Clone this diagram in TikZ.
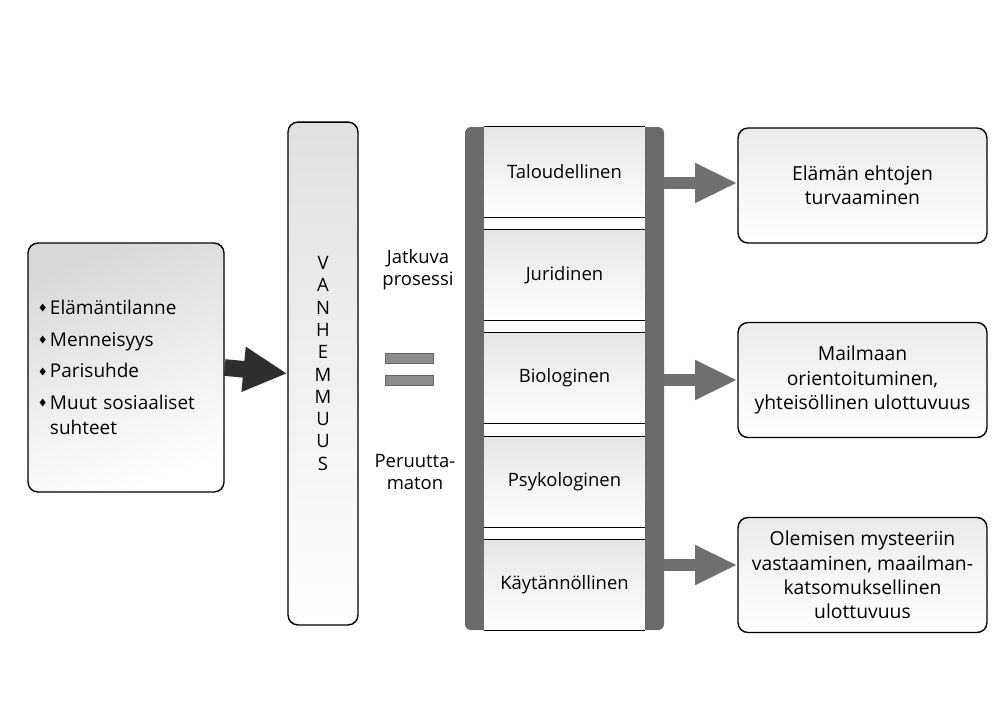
\documentclass[tikz,border=0pt]{standalone}
\usepackage{amssymb}
\usepackage{fontspec}
\setmainfont{Open Sans}
\usepackage{tikz}
\usetikzlibrary{positioning,arrows.meta,calc}

\definecolor{railgray}{HTML}{6A6A6A}
\definecolor{arrgray}{HTML}{707070}
\definecolor{arrdark}{HTML}{2E2E2E}
\newcommand{\dmd}{\raisebox{0.35ex}{\tiny$\blacklozenge$}\,}

\begin{document}
\begin{tikzpicture}[x=0.02cm, y=-0.02cm, font=\fontsize{10.5}{12.7}\selectfont,
  srcbox/.style={draw, thick, rounded corners=0.2cm, minimum width=3.92cm, minimum height=4.98cm,
    top color=black!15, bottom color=white, shading angle=20, align=left, text width=3.5cm,
    font=\fontsize{10.8}{14.5}\selectfont},
  vhbox/.style={draw, thick, rounded corners=0.2cm, minimum width=1.4cm, minimum height=10.06cm,
    top color=black!12, bottom color=white},
  sec/.style={minimum width=3.22cm, minimum height=1.8cm, top color=black!10, bottom color=white},
  outbox/.style={draw, thick, rounded corners=0.2cm, minimum width=4.98cm, minimum height=2.3cm,
    top color=black!8, bottom color=white, align=center, font=\fontsize{11}{13.8}\selectfont},
  bigarr/.style={line width=9.5pt, arrdark, -{Triangle[length=25pt, width=24pt]}},
  outarr/.style={line width=6.8pt, arrgray, -{Triangle[length=24pt, width=21pt]}}]
\useasboundingbox (0,0) rectangle (998,704);

% left box
\node[srcbox] (src) at (126,367.5) {\dmd Elämäntilanne\\[3.5pt]
  \dmd Menneisyys\\[3.5pt]
  \dmd Parisuhde\\[3.5pt]
  \dmd Muut sosiaaliset\\
  \phantom{\dmd}suhteet};

% vanhemmuus
\node[vhbox] (vh) at (323,373.5) {};
\foreach \l [count=\k] in {V,A,N,H,E,M,M,U,U,S}
  \node[inner sep=0pt] (v\k) at (323,{263+22.3*(\k-1)}) {\l};

\node[align=center] (jat) at (418,270) {Jatkuva\\prosessi};
\node[align=center] (per) at (415,472) {Peruutta-\\maton};
\filldraw[fill=black!45, draw=black!60] (385,353) rectangle (433,363);
\filldraw[fill=black!45, draw=black!60] (385,375) rectangle (433,385);

% ladder
\fill[railgray, rounded corners=0.12cm] (465,127) rectangle (664,630);
\fill[white] (484,127) rectangle (645,630);
\foreach \i/\y/\lab in {1/172/Taloudellinen, 2/275/Juridinen, 3/378/Biologinen,
    4/482/Psykologinen, 5/585/Käytännöllinen}{
  \node[sec] (s\i) at (564.5,\y) {\lab};
  \draw (s\i.north west) -- (s\i.north east);
  \draw (s\i.south west) -- (s\i.south east);
}

% outcome boxes
\node[outbox] (r1) at (862.5,185.5) {Elämän ehtojen\\turvaaminen};
\node[outbox] (r2) at (862.5,380) {Mailmaan\\orientoituminen,\\yhteisöllinen ulottuvuus};
\node[outbox] (r3) at (862.5,575) {Olemisen mysteeriin\\vastaaminen, maailman-\\katsomuksellinen\\ulottuvuus};

\coordinate (a1) at (664,183);
\coordinate (a2) at (664,380);
\coordinate (a3) at (664,565);

\draw[bigarr] (src.east) -- (vh.west);
\draw[outarr] (a1) -- (a1 -| r1.west);
\draw[outarr] (a2) -- (a2 -| r2.west);
\draw[outarr] (a3) -- (a3 -| r3.west);
\end{tikzpicture}
\end{document}
